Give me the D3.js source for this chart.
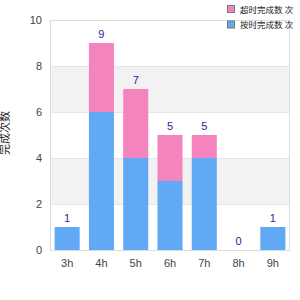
<!DOCTYPE html>
<html><head><meta charset="utf-8">
<script src="https://cdn.jsdelivr.net/npm/d3@7"></script>
<style>body{margin:0;background:#fff}svg{display:block}</style>
</head><body>
<svg id="c" width="300" height="300"></svg>
<script>
const categories = ["3h","4h","5h","6h","7h","8h","9h"];
const blueValues = [1,6,4,3,4,0,1];
const pinkValues = [0,3,3,2,1,0,0];
const seriesNames = ["超时完成数 次","按时完成数 次"];
const yTicks = [0,2,4,6,8,10];
const yLabel = "完成次数";
const colors = {blue:"#62a9f5", pink:"#f384bd"};

const svg = d3.select("#c");
const m = {l:50, r:10, t:20, b:50};
const W = 300, H = 300;
const x = d3.scaleBand().domain(categories).range([m.l, W-m.r]).paddingInner(0.27).paddingOuter(0.135);
const y = d3.scaleLinear().domain([0,10]).range([H-m.b, m.t]);
const font = "Liberation Sans, Arial, Noto Sans CJK SC, sans-serif";

const bands = [[2,4],[6,8]];
svg.selectAll("rect.band").data(bands).join("rect")
  .attr("x", m.l).attr("width", W-m.r-m.l)
  .attr("y", d=>y(d[1])).attr("height", d=>y(d[0])-y(d[1]))
  .attr("fill","#f2f2f2");
svg.selectAll("line.grid").data(yTicks).join("line")
  .attr("x1", m.l).attr("x2", W-m.r)
  .attr("y1", d=>y(d)+0.5).attr("y2", d=>y(d)+0.5)
  .attr("stroke","#e6e6e6");
svg.append("rect").attr("x", m.l+0.5).attr("y", m.t+0.5)
  .attr("width", W-m.r-m.l-1).attr("height", H-m.b-m.t)
  .attr("fill","none").attr("stroke","#dcdcdc");

const data = categories.map((c,i)=>({c, b:blueValues[i], p:pinkValues[i]}));
svg.selectAll("rect.blue").data(data).join("rect")
  .attr("x", d=>x(d.c)).attr("width", x.bandwidth())
  .attr("y", d=>y(d.b)).attr("height", d=>y(0)-y(d.b))
  .attr("fill", colors.blue);
svg.selectAll("rect.pink").data(data).join("rect")
  .attr("x", d=>x(d.c)).attr("width", x.bandwidth())
  .attr("y", d=>y(d.b+d.p)).attr("height", d=>y(d.b)-y(d.b+d.p))
  .attr("fill", colors.pink);
svg.selectAll("text.tot").data(data).join("text")
  .attr("x", d=>x(d.c)+x.bandwidth()/2).attr("y", d=>y(d.b+d.p)-5)
  .attr("text-anchor","middle").attr("font-family",font).attr("font-size",11)
  .attr("fill","#1f1f99").text(d=>d.b+d.p);

svg.selectAll("text.yt").data(yTicks).join("text")
  .attr("x", 42).attr("y", d=>y(d)+4).attr("text-anchor","end")
  .attr("font-family",font).attr("font-size",11).attr("fill","#444").text(d=>d);
svg.selectAll("text.xt").data(categories).join("text")
  .attr("x", d=>x(d)+x.bandwidth()/2).attr("y", 267).attr("text-anchor","middle")
  .attr("font-family",font).attr("font-size",11).attr("fill","#444").text(d=>d);
svg.append("text").attr("transform","translate(9,133) rotate(-90)")
  .attr("text-anchor","middle").attr("font-family",font).attr("font-size",11)
  .attr("fill","#222").text(yLabel);

const leg = [{n:seriesNames[0], c:colors.pink},{n:seriesNames[1], c:colors.blue}];
const lg = svg.selectAll("g.leg").data(leg).join("g")
  .attr("transform",(d,i)=>`translate(227,${5+i*15.5})`);
lg.append("rect").attr("x",0.5).attr("y",0.5).attr("width",7).attr("height",7)
  .attr("fill",d=>d.c).attr("stroke","#777");
lg.append("text").attr("x",13).attr("y",7.5).attr("font-family",font).attr("font-size",8.5)
  .attr("fill","#222").text(d=>d.n);
</script>
</body></html>
